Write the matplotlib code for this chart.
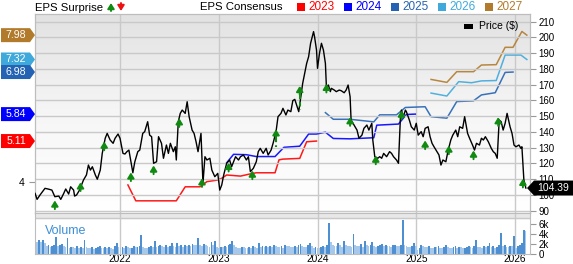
import matplotlib
matplotlib.use("Agg")
import matplotlib.pyplot as plt
import matplotlib.transforms as mtransforms
from matplotlib.patches import Polygon, Rectangle
from matplotlib.colors import LinearSegmentedColormap
import numpy as np
import pandas as pd

plt.rcParams['font.family'] = ['Liberation Sans', 'DejaVu Sans']

# ---- price (decimal years, $) ----
price_t = [2021.14, 2021.16, 2021.19, 2021.24, 2021.27, 2021.31, 2021.34, 2021.38, 2021.40, 2021.43,
           2021.45, 2021.48, 2021.50, 2021.53, 2021.54, 2021.56, 2021.59, 2021.61, 2021.63, 2021.66,
           2021.68, 2021.70, 2021.72, 2021.75, 2021.77, 2021.80, 2021.82, 2021.85, 2021.87, 2021.90,
           2021.93, 2021.95, 2021.98,
           2022.00, 2022.03, 2022.05, 2022.07, 2022.09, 2022.11, 2022.13, 2022.15, 2022.18, 2022.20,
           2022.23, 2022.25, 2022.28, 2022.30, 2022.32, 2022.34, 2022.37, 2022.39, 2022.42, 2022.44,
           2022.47, 2022.49, 2022.51, 2022.54, 2022.56, 2022.57, 2022.59, 2022.61, 2022.63, 2022.66,
           2022.68, 2022.70, 2022.73, 2022.75, 2022.77, 2022.79, 2022.82, 2022.84, 2022.86, 2022.88,
           2022.91, 2022.93, 2022.96, 2022.99,
           2023.01, 2023.03, 2023.05, 2023.08, 2023.11, 2023.13, 2023.15, 2023.17, 2023.20, 2023.22,
           2023.25, 2023.28, 2023.30, 2023.32, 2023.35, 2023.38, 2023.40, 2023.42, 2023.45, 2023.48,
           2023.50, 2023.53, 2023.55, 2023.58, 2023.60, 2023.63, 2023.65, 2023.68, 2023.70, 2023.73,
           2023.75, 2023.77, 2023.81, 2023.85, 2023.87, 2023.89, 2023.91, 2023.93, 2023.96, 2023.97,
           2023.99,
           2024.00, 2024.02, 2024.04, 2024.06, 2024.08, 2024.09, 2024.11, 2024.13, 2024.14, 2024.17,
           2024.19, 2024.22, 2024.24, 2024.27, 2024.29, 2024.31, 2024.33, 2024.34, 2024.36, 2024.40,
           2024.42, 2024.45, 2024.47, 2024.50, 2024.52, 2024.55, 2024.56, 2024.58, 2024.61, 2024.63,
           2024.65, 2024.67, 2024.70, 2024.73, 2024.75, 2024.77, 2024.80, 2024.82, 2024.84, 2024.85,
           2024.87, 2024.89, 2024.90, 2024.93, 2024.95, 2024.98,
           2025.00, 2025.02, 2025.05, 2025.07, 2025.09, 2025.12, 2025.14, 2025.16, 2025.18, 2025.21,
           2025.23, 2025.25, 2025.27, 2025.30, 2025.32, 2025.35, 2025.37, 2025.40, 2025.42, 2025.44,
           2025.47, 2025.49, 2025.52, 2025.54, 2025.57, 2025.59, 2025.61, 2025.64, 2025.66, 2025.68,
           2025.70, 2025.73, 2025.76, 2025.78, 2025.80, 2025.82, 2025.84, 2025.86, 2025.88, 2025.90,
           2025.92, 2025.95, 2025.97, 2025.99, 2026.01, 2026.04, 2026.06, 2026.07, 2026.09, 2026.11]
price_v = [101.0, 97.2, 100.0, 104.2, 103.8, 103.1, 98.9, 99.3, 97.2, 101.0,
           103.8, 100.6, 105.2, 103.1, 99.3, 100.0, 103.1, 106.3, 109.5, 112.7,
           119.0, 115.8, 117.9, 112.7, 110.0, 115.8, 126.4, 136.0, 139.1, 134.9,
           132.8, 136.0, 138.7,
           136.0, 126.4, 126.0, 127.5, 128.5, 121.1, 114.1, 121.1, 127.5, 128.5,
           139.1, 140.2, 146.5, 138.0, 137.0, 120.1, 121.1, 137.0, 132.8, 123.3,
           131.7, 126.4, 132.8, 127.5, 130.6, 122.2, 146.5, 151.8, 153.9, 151.8,
           159.2, 149.7, 141.2, 139.1, 133.8, 127.5, 139.1, 107.4, 124.3, 122.2,
           123.3, 115.8, 111.6, 113.7,
           103.1, 106.3, 112.7, 120.1, 122.2, 117.9, 121.1, 124.3, 122.2, 124.3,
           125.4, 122.2, 124.3, 114.8, 116.9, 121.1, 127.5, 129.6, 126.4, 129.6,
           125.4, 128.5, 132.8, 140.2, 149.7, 151.8, 155.0, 150.8, 153.9, 152.9,
           159.9, 160.7, 152.9, 170.9, 177.2, 183.5, 187.8, 196.3, 203.7, 200.5,
           192.0,
           180.4, 189.9, 196.3, 192.0, 183.5, 168.7, 169.8, 165.6, 167.7, 166.6,
           165.6, 166.6, 166.2, 164.9, 166.6, 169.8, 162.4, 147.6, 145.5, 141.2,
           136.0, 138.0, 142.3, 144.4, 141.2, 145.5, 134.9, 124.3, 123.3, 124.3,
           123.3, 126.4, 124.3, 127.5, 126.4, 124.3, 122.2, 120.1, 149.7, 153.9,
           149.7, 153.9, 152.9, 147.6, 143.3, 141.2,
           145.5, 138.0, 140.2, 137.0, 142.3, 143.3, 137.0, 132.8, 130.6, 127.5,
           125.4, 119.0, 122.2, 121.1, 127.5, 134.9, 138.0, 141.2, 137.0, 143.3,
           142.3, 149.7, 139.1, 136.0, 131.7, 128.5, 132.8, 131.7, 136.0, 134.9,
           137.0, 133.8, 129.6, 127.5, 126.4, 123.3, 147.6, 146.5, 141.2, 145.5,
           151.8, 143.3, 139.1, 131.7, 130.6, 131.7, 129.6, 130.6, 109.5, 104.39]
last_price = 104.39

# ---- EPS consensus per fiscal year ----
eps23_t = [2022.08, 2022.16, 2022.57, 2022.66, 2022.81, 2022.88, 2022.98, 2023.03, 2023.08, 2023.22,
           2023.32, 2023.38, 2023.57, 2023.61, 2023.65, 2023.82, 2023.89, 2023.99]
eps23_v = [3.92, 3.49, 3.49, 3.87, 3.87, 4.01, 4.05, 4.10, 4.19, 4.16,
           4.22, 4.25, 4.25, 4.60, 4.62, 4.64, 5.09, 5.11]
eps24_t = [2023.08, 2023.15, 2023.28, 2023.38, 2023.57, 2023.66, 2023.82, 2023.91, 2023.99, 2024.08,
           2024.16, 2024.33, 2024.57, 2024.60, 2024.82, 2024.90, 2024.99]
eps24_v = [4.52, 4.75, 4.74, 4.69, 4.69, 4.94, 4.97, 5.30, 5.30, 5.35,
           5.18, 5.17, 5.20, 5.54, 5.57, 5.83, 5.84]
eps25_t = [2024.08, 2024.16, 2024.33, 2024.57, 2024.63, 2024.80, 2024.89, 2025.09, 2025.15, 2025.31,
           2025.41, 2025.58, 2025.66, 2025.80, 2025.90, 2025.98]
eps25_v = [5.88, 5.70, 5.70, 5.63, 5.82, 5.82, 6.02, 6.04, 5.77, 5.73,
           6.18, 6.20, 6.36, 6.42, 6.97, 6.98]
eps26_t = [2025.15, 2025.31, 2025.43, 2025.56, 2025.66, 2025.81, 2025.90, 2026.06, 2026.12]
eps26_v = [6.41, 6.33, 6.72, 6.69, 6.74, 6.75, 7.44, 7.44, 7.32]
eps27_t = [2025.15, 2025.31, 2025.41, 2025.58, 2025.66, 2025.81, 2025.90, 2025.98, 2026.07, 2026.12]
eps27_v = [6.78, 6.70, 6.99, 6.99, 7.17, 7.18, 7.65, 7.65, 8.08, 7.98]

# ---- EPS surprise (all positive) ----
surp_t = [2021.34, 2021.60, 2021.84, 2022.11, 2022.34, 2022.60, 2022.83, 2023.10, 2023.34, 2023.58,
          2023.82, 2024.09, 2024.33, 2024.59, 2024.85, 2025.09, 2025.33, 2025.58, 2025.83, 2026.08]
surp_tip = [96.5, 108.0, 133.9, 114.3, 118.7, 148.7, 110.6, 120.4, 115.5, 141.7,
            169.2, 170.6, 149.4, 125.0, 153.6, 134.6, 131.4, 128.2, 149.4, 110.3]
dash_t = [2023.58, 2023.82]
dash_lo = [130.6, 153.9]

# ---- weekly volume (thousands) ----
vol_2021 = [2.6, 2.4, 2.8, 2.5, 2.9, 2.3, 1.6, 1.8, 1.5, 1.7, 1.9, 3.5, 1.7, 1.8, 2.0, 1.6, 1.5, 3.3,
            1.2, 1.5, 1.4, 1.3, 1.6, 1.2, 1.5, 1.3, 2.8, 1.4, 1.3, 1.2, 1.5, 1.1, 1.2, 1.4, 1.6, 1.3,
            1.2, 1.5, 1.2, 1.4, 1.3, 1.1, 1.6, 2.2, 1.4]
vol_2022 = [1.2, 1.4, 1.3, 1.6, 1.5, 1.2, 1.3, 1.7, 1.4, 1.5, 1.6, 3.9, 1.4, 1.3, 1.2, 1.5, 1.6, 1.4,
            2.6, 1.5, 1.7, 1.9, 1.6, 1.5, 1.8, 1.4, 1.7, 2.3, 1.6, 1.5, 2.2, 1.6, 1.8, 1.5, 1.9, 1.7,
            1.8, 1.6, 2.0, 1.9, 1.8, 3.3, 1.8, 1.7, 2.0, 1.9, 1.6, 1.5, 2.5, 1.8, 2.7, 1.4]
vol_2023 = [1.2, 1.5, 1.4, 1.6, 1.5, 1.8, 2.0, 2.6, 1.9, 1.4, 1.3, 1.2, 1.5, 1.4, 1.3, 1.2, 1.4, 1.2,
            1.6, 1.5, 1.3, 2.3, 1.4, 1.6, 1.5, 1.7, 1.4, 1.6, 1.5, 1.8, 1.7, 1.5, 1.4, 1.6, 1.3, 1.9,
            1.7, 1.6, 1.5, 1.4, 1.6, 1.5, 1.8, 2.1, 1.7, 1.5, 1.4, 1.9, 2.3, 1.6, 1.2, 1.4]
vol_2024 = [1.3, 1.2, 1.5, 1.6, 1.4, 1.8, 6.3, 2.5, 1.9, 1.7, 1.6, 2.2, 1.8, 1.5, 2.6, 1.9, 1.7, 1.6,
            1.5, 4.0, 1.8, 1.7, 1.6, 2.0, 1.5, 2.6, 1.8, 1.7, 1.9, 2.4, 1.6, 1.5, 1.7, 1.9, 2.0, 1.6,
            1.8, 1.7, 1.6, 1.5, 1.8, 1.9, 1.7, 1.6, 1.8, 6.8, 1.9, 1.7, 1.5, 1.4, 1.6, 2.3]
vol_2025 = [1.6, 0.8, 1.2, 1.9, 1.6, 1.5, 1.4, 1.7, 1.3, 1.2, 1.5, 1.4, 1.6, 1.3, 1.2, 1.4, 1.9, 1.5,
            1.3, 1.2, 1.4, 1.6, 1.3, 1.5, 1.4, 1.2, 1.3, 1.5, 1.6, 1.4, 1.3, 1.7, 2.8, 1.5, 1.4, 1.3,
            1.6, 1.5, 1.7, 2.2, 1.4, 1.6, 1.3, 1.5, 1.8, 4.3, 1.6, 1.9, 1.5, 1.4, 1.7, 1.6]
vol_2026 = [3.7, 1.3, 1.6, 1.9, 2.2, 4.8, 4.6]
volume_k = vol_2021 + vol_2022 + vol_2023 + vol_2024 + vol_2025 + vol_2026
vol_dates = pd.date_range('2021-02-22', periods=len(volume_k), freq='7D')
vol_t = vol_dates.year + (vol_dates.dayofyear - 1) / 365.25

years = [2022, 2023, 2024, 2025, 2026]
eps_tags = [7.98, 7.32, 6.98, 5.84, 5.11]

c23, c24, c25, c26, c27 = '#ff0000', '#0000ff', '#2463b3', '#3fa9dc', '#b27b2c'
tag_colors = [c27, c26, c25, c24, c23]
grid_c = '#c9c9c9'
green = '#108a10'
arrow_style = '-|>,head_length=0.32,head_width=0.2'

W, H = 573, 264
fig = plt.figure(figsize=(W / 100, H / 100), dpi=100)


def fx(x):
    return x / W


def fy(y):
    return 1 - y / H


ax_eps = fig.add_axes([fx(35), fy(213), fx(530) - fx(35), fy(14) - fy(213)])
ax = ax_eps.twinx()
axv = fig.add_axes([fx(35), fy(254.3), fx(530) - fx(35), fy(213) - fy(254.3)])

# background gradient
bg = LinearSegmentedColormap.from_list('bg', ['#ffffff', '#f6f6f6', '#e2e2e2'])
ax_eps.imshow(np.linspace(0, 1, 100)[:, None], extent=(0, 1, 0, 1), transform=ax_eps.transAxes,
              origin='lower', aspect='auto', cmap=bg, zorder=0)

for t, v, c in [(eps23_t, eps23_v, c23), (eps24_t, eps24_v, c24), (eps25_t, eps25_v, c25),
                (eps26_t, eps26_v, c26), (eps27_t, eps27_v, c27)]:
    ax_eps.plot(t, v, color=c, lw=1.1, alpha=0.9, zorder=3)

ax_eps.set_xlim(2021.139, 2026.152)
ax_eps.set_ylim(3.16, 8.553)
ax_eps.set_xticks(years)
ax_eps.xaxis.grid(True, color=grid_c, lw=1)
ax_eps.tick_params(axis='x', length=0, labelbottom=False)
ax_eps.set_yticks([4])
ax_eps.set_yticklabels(['4'])
ax_eps.tick_params(axis='y', length=4.5, width=0.8, color='#999999', labelsize=7.5, pad=3)

# price
ax.plot(price_t, price_v, color='black', lw=1.0, zorder=4)
ax.set_ylim(88.55, 214.9)
ax.set_yticks(range(90, 211, 10))
ax.yaxis.grid(True, color=grid_c, lw=1)
ax.set_axisbelow(True)
ax.tick_params(axis='y', length=4, width=0.8, color='#999999', labelsize=7, pad=2)

for t, tip in zip(surp_t, surp_tip):
    ax.annotate('', xy=(t, tip), xytext=(t, tip - 5.5),
                arrowprops=dict(arrowstyle=arrow_style, color=green,
                                lw=1.4, shrinkA=0, shrinkB=0, mutation_scale=10),
                annotation_clip=False, zorder=5)
for t, lo, tip in zip(dash_t, dash_lo, [surp_tip[surp_t.index(d)] for d in dash_t]):
    ax.plot([t, t], [tip - 5.5, lo], color=green, lw=1.5, ls=(0, (2, 1.5)), zorder=5)

for a in (ax_eps, ax):
    for s in a.spines.values():
        s.set_color('#bdbdbd')

# volume
vcolors = ['#4d8fd1' if i > 0 and volume_k[i] > volume_k[i - 1] else '#a6c9eb'
           for i in range(len(volume_k))]
axv.bar(vol_t, volume_k, width=0.018, color=vcolors, zorder=2)
axv.set_xlim(2021.139, 2026.152)
axv.set_ylim(0, 8.2)
axv.axhspan(7.25, 8.2, color='#e8e8e8', zorder=1)
axv.axhline(7.25, color=grid_c, lw=1, zorder=1)
axv.set_xticks(years)
axv.set_xticklabels([str(y) for y in years])
axv.xaxis.grid(True, color=grid_c, lw=1, zorder=0)
axv.tick_params(axis='x', length=0, labelsize=7.3, pad=0)
axv.yaxis.tick_right()
axv.set_yticks([0, 2, 4, 6])
axv.set_yticklabels(['0', '2k', '4k', '6k'])
axv.tick_params(axis='y', length=4, width=0.8, color='#999999', labelsize=7, pad=2)
for s in axv.spines.values():
    s.set_color('#bdbdbd')
fig.text(fx(45), fy(233.5), 'Volume', color='#3d8fd6', fontsize=9, va='baseline')

# left EPS tags
trans_l = mtransforms.blended_transform_factory(fig.transFigure, ax_eps.transData)
hh = 7 / 36.9
for e, c in zip(eps_tags, tag_colors):
    fig.add_artist(Polygon([(fx(1), e - hh), (fx(30), e - hh), (fx(35), e),
                            (fx(30), e + hh), (fx(1), e + hh)],
                           closed=True, facecolor=c, edgecolor='none', transform=trans_l))
    fig.text(fx(16), e, f'{e:.2f}', color='white', fontsize=7.6, ha='center', va='center',
             transform=trans_l)

# last price tag
trans_r = mtransforms.blended_transform_factory(fig.transFigure, ax.transData)
ph = 7.5 / 1.575
fig.add_artist(Polygon([(fx(527), last_price), (fx(534), last_price + ph), (fx(573), last_price + ph),
                        (fx(573), last_price - ph), (fx(534), last_price - ph)],
                       closed=True, facecolor='black', edgecolor='none', transform=trans_r))
fig.text(fx(553.5), last_price, f'{last_price:.2f}', color='white', fontsize=7.5,
         ha='center', va='center', transform=trans_r)

# header
fig.text(fx(35), fy(10.6), 'EPS Surprise', fontsize=8.2, va='baseline')
ax.annotate('', xy=(fx(111), fy(3)), xytext=(fx(111), fy(11)), xycoords='figure fraction',
            arrowprops=dict(arrowstyle=arrow_style, color=green, lw=1.4,
                            shrinkA=0, shrinkB=0, mutation_scale=10), annotation_clip=False)
ax.annotate('', xy=(fx(121), fy(11)), xytext=(fx(121), fy(3)), xycoords='figure fraction',
            arrowprops=dict(arrowstyle=arrow_style, color='#ee1111', lw=1.4,
                            shrinkA=0, shrinkB=0, mutation_scale=10), annotation_clip=False)
fig.text(fx(200), fy(10.3), 'EPS Consensus', fontsize=8.2, va='baseline')
for i, (lab, c) in enumerate(zip(['2023', '2024', '2025', '2026', '2027'], [c23, c24, c25, c26, c27])):
    sx = 297 + 47 * i
    fig.add_artist(Rectangle((fx(sx), fy(10.5)), 8 / W, 8 / H, facecolor=c, edgecolor='none',
                             transform=fig.transFigure))
    fig.text(fx(sx + 11), fy(10.3), lab, color=c, fontsize=8.5, va='baseline')

# price legend
fig.add_artist(Rectangle((fx(464), fy(28.5)), 9 / W, 5 / H, facecolor='black', edgecolor='none',
                         transform=fig.transFigure))
fig.text(fx(479), fy(26), 'Price ($)', fontsize=7.5, va='center')

fig.savefig('out.png', dpi=100)
